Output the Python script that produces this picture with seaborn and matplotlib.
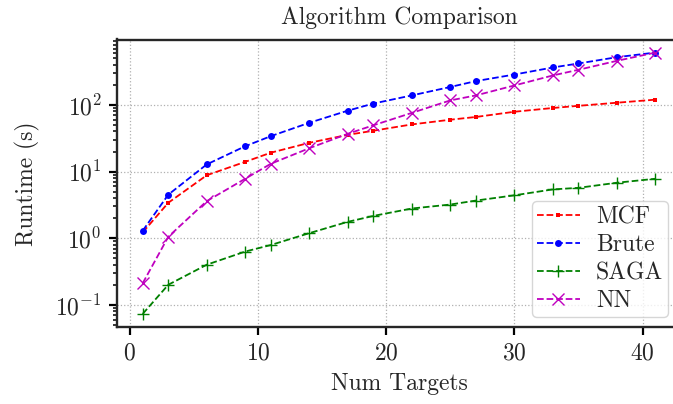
import matplotlib
matplotlib.use("Agg")
import matplotlib.pyplot as plt
import seaborn as sns
import pandas as pd

num_targets = [1, 3, 6, 9, 11, 14, 17, 19, 22, 25, 27, 30, 33, 35, 38, 41]
mcf = [1.22, 3.4, 8.8, 14, 19.2, 27, 35.6, 41, 51, 60, 66, 79, 90, 97, 108, 120]
brute = [1.29, 4.5, 12.8, 24, 34, 54, 82, 105, 139, 186, 228, 286, 365, 419, 521, 611]
saga = [0.073, 0.2, 0.40, 0.63, 0.79, 1.19, 1.76, 2.16, 2.79, 3.2, 3.67, 4.4, 5.4, 5.7, 6.8, 7.8]
nn = [0.21, 1.05, 3.6, 7.8, 13.1, 22.4, 36.9, 49.5, 76, 117, 139, 196, 277, 337, 459, 611]

sns.set_style("ticks")
plt.rcParams.update({
    "font.family": "serif",
    "font.serif": ["cmr10", "DejaVu Serif"],
    "mathtext.fontset": "cm",
    "axes.formatter.use_mathtext": True,
    "axes.unicode_minus": True,
})

FS = 17
fig = plt.figure(figsize=(6.73, 4.04), dpi=100)
ax = fig.add_axes([117 / 673, 77 / 404, (681 - 117) / 673, (327 - 39.5) / 404])

series = [
    ("MCF", mcf, "red", "s", 2.5),
    ("Brute", brute, "blue", "o", 5),
    ("SAGA", saga, "green", "+", 9),
    ("NN", nn, "m", "x", 9),
]
for name, vals, color, marker, ms in series:
    df = pd.DataFrame({"Num Targets": num_targets, "Runtime": vals})
    sns.lineplot(data=df, x="Num Targets", y="Runtime", ax=ax, color=color,
                 marker=marker, markersize=ms, linestyle="--", linewidth=1.3,
                 markeredgewidth=1.0 if marker in "+x" else 0,
                 markeredgecolor=color, label=name)

ax.set_yscale("log")
ax.set_xlim(-1, 43)
ax.set_xticks([0, 10, 20, 30, 40])
ax.grid(True, which="major", linestyle=":", color="#b0b0b0", linewidth=0.9)
for s in ax.spines.values():
    s.set_linewidth(1.7)
ax.tick_params(which="major", length=6, width=1.6, labelsize=FS, color="black", pad=5)
ax.tick_params(which="minor", length=3.2, width=1.1, color="black")
ax.set_xlabel("Num Targets", fontsize=FS, labelpad=6)
ax.set_ylabel("Runtime (s)", fontsize=FS, labelpad=11)
ax.set_title("Algorithm Comparison", fontsize=FS, pad=11)
leg = ax.legend(loc="lower right", bbox_to_anchor=(0.977, 0.035), fontsize=FS,
                frameon=True, fancybox=True, framealpha=0.8, edgecolor="#cccccc",
                handlelength=1.8, handletextpad=0.7, labelspacing=0.25,
                borderpad=0.2, borderaxespad=0)
fig.savefig("out.png", dpi=100)
